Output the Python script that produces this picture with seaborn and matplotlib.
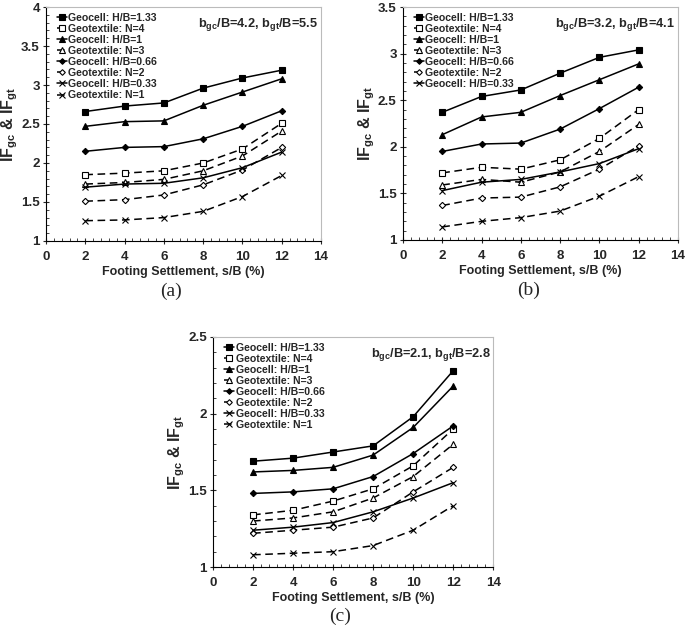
import numpy as np
import pandas as pd
import matplotlib
matplotlib.use("Agg")
import matplotlib.pyplot as plt
from matplotlib.ticker import MultipleLocator, AutoMinorLocator
import seaborn as sns

sns.set_style("ticks")
plt.rcParams['font.family'] = ['Liberation Sans', 'DejaVu Sans']
plt.rcParams['mathtext.fontset'] = 'custom'
plt.rcParams['mathtext.rm'] = 'Liberation Sans:bold'
plt.rcParams['mathtext.bf'] = 'Liberation Sans:bold'

settlement = [2, 4, 6, 8, 10, 12]

labels = ['Geocell: H/B=1.33', 'Geotextile: N=4', 'Geocell: H/B=1', 'Geotextile: N=3',
          'Geocell: H/B=0.66', 'Geotextile: N=2', 'Geocell: H/B=0.33', 'Geotextile: N=1']

# panel (a)
a_gc133 = [2.66, 2.73, 2.77, 2.96, 3.09, 3.19]
a_gt4 = [1.85, 1.87, 1.90, 2.00, 2.18, 2.51]
a_gc1 = [2.47, 2.53, 2.54, 2.74, 2.91, 3.08]
a_gt3 = [1.73, 1.75, 1.79, 1.90, 2.09, 2.41]
a_gc066 = [2.15, 2.20, 2.21, 2.31, 2.47, 2.67]
a_gt2 = [1.51, 1.53, 1.59, 1.72, 1.91, 2.20]
a_gc033 = [1.69, 1.73, 1.74, 1.81, 1.94, 2.14]
a_gt1 = [1.26, 1.27, 1.30, 1.38, 1.57, 1.84]

# panel (b)
b_gc133 = [2.37, 2.54, 2.61, 2.79, 2.96, 3.04]
b_gt4 = [1.72, 1.78, 1.76, 1.86, 2.09, 2.40]
b_gc1 = [2.13, 2.32, 2.37, 2.55, 2.72, 2.89]
b_gt3 = [1.59, 1.65, 1.62, 1.73, 1.95, 2.24]
b_gc066 = [1.95, 2.03, 2.04, 2.19, 2.41, 2.64]
b_gt2 = [1.37, 1.45, 1.46, 1.57, 1.76, 2.01]
b_gc033 = [1.53, 1.62, 1.65, 1.73, 1.82, 1.98]
b_gt1 = [1.14, 1.20, 1.24, 1.31, 1.47, 1.68]

# panel (c)
c_gc133 = [1.69, 1.71, 1.75, 1.79, 1.98, 2.28]
c_gt4 = [1.34, 1.37, 1.43, 1.51, 1.66, 1.90]
c_gc1 = [1.62, 1.63, 1.65, 1.73, 1.91, 2.18]
c_gt3 = [1.30, 1.32, 1.36, 1.45, 1.59, 1.80]
c_gc066 = [1.48, 1.49, 1.51, 1.59, 1.74, 1.92]
c_gt2 = [1.22, 1.24, 1.26, 1.32, 1.49, 1.65]
c_gc033 = [1.24, 1.26, 1.29, 1.36, 1.45, 1.55]
c_gt1 = [1.08, 1.09, 1.10, 1.14, 1.24, 1.40]

# marker, filled, dashed
styles = [('s', True, False), ('s', False, True), ('^', True, False), ('^', False, True),
          ('D', True, False), ('D', False, True), ('x', True, False), ('x', True, True)]
msizes = [4.5, 4.5, 4.5, 4.5, 3.2, 3.2, 4.5, 4.5]


def panel(ax, series, ylim, ystep, note, n_legend, tag):
    for i, vals in enumerate(series):
        mk, filled, dashed = styles[i]
        sns.lineplot(x=settlement, y=vals, ax=ax, color='black', lw=1.1,
                     marker=mk, markersize=msizes[i],
                     markerfacecolor='black' if filled else 'white',
                     markeredgecolor='black', markeredgewidth=0.8,
                     linestyle=(0, (5, 3)) if dashed else '-',
                     label=labels[i] if i < n_legend else '_nolegend_')
    ax.set_xlim(0, 14)
    ax.set_ylim(*ylim)
    ax.xaxis.set_major_locator(MultipleLocator(2))
    ax.yaxis.set_major_locator(MultipleLocator(ystep))
    ax.xaxis.set_minor_locator(AutoMinorLocator(5))
    ax.yaxis.set_minor_locator(AutoMinorLocator(5))
    ax.tick_params(which='major', direction='inout', length=5, width=0.8, labelsize=9.6)
    ax.tick_params(axis='x', which='major', pad=5)
    ax.tick_params(axis='y', which='major', pad=2)
    ax.tick_params(which='minor', direction='in', length=2.5, width=0.6)
    for t in ax.get_xticklabels() + ax.get_yticklabels():
        t.set_fontweight('bold')
    ax.yaxis.set_major_formatter(plt.FuncFormatter(lambda v, p: ('%g' % v)))
    for s in ['top', 'right']:
        ax.spines[s].set_color('#bbbbbb')
        ax.spines[s].set_linewidth(0.8)
    for s in ['left', 'bottom']:
        ax.spines[s].set_color('black')
        ax.spines[s].set_linewidth(0.8)
    ax.set_xlabel('Footing Settlement, s/B (%)', fontsize=9, fontweight='bold', labelpad=2)
    ax.set_ylabel(r'IF$_{\mathbf{gc}}$ & IF$_{\mathbf{gt}}$', fontsize=11.5, fontweight='bold', labelpad=1)
    ax.text(0.99, 0.925, note, transform=ax.transAxes, ha='right', va='center',
            fontsize=9.2, fontweight='bold')
    leg = ax.legend(loc='upper left', bbox_to_anchor=(0.02, 1.0), frameon=False,
                    fontsize=7.6, handlelength=0.9, handletextpad=0.15,
                    labelspacing=0.1, borderaxespad=0.15, markerscale=0.9)
    for t in leg.get_texts():
        t.set_fontweight('bold')
    ax.text(0.455, -0.215, tag, transform=ax.transAxes, ha='center', va='center',
            fontsize=14, family='Liberation Serif')


fig = plt.figure(figsize=(6.85, 6.32), dpi=100)
ax_a = fig.add_axes([0.0672, 0.6187, 0.4015, 0.3702])
ax_b = fig.add_axes([0.5883, 0.6203, 0.4015, 0.3686])
ax_c = fig.add_axes([0.311, 0.1028, 0.409, 0.364])

panel(ax_a, [a_gc133, a_gt4, a_gc1, a_gt3, a_gc066, a_gt2, a_gc033, a_gt1],
      (1, 4), 0.5, r'b$_{\mathbf{gc}}$/B=4.2, b$_{\mathbf{gt}}$/B=5.5', 8, '(a)')
panel(ax_b, [b_gc133, b_gt4, b_gc1, b_gt3, b_gc066, b_gt2, b_gc033, b_gt1],
      (1, 3.5), 0.5, r'b$_{\mathbf{gc}}$/B=3.2, b$_{\mathbf{gt}}$/B=4.1', 7, '(b)')
panel(ax_c, [c_gc133, c_gt4, c_gc1, c_gt3, c_gc066, c_gt2, c_gc033, c_gt1],
      (1, 2.5), 0.5, r'b$_{\mathbf{gc}}$/B=2.1, b$_{\mathbf{gt}}$/B=2.8', 8, '(c)')

fig.savefig('out.png', dpi=100)
